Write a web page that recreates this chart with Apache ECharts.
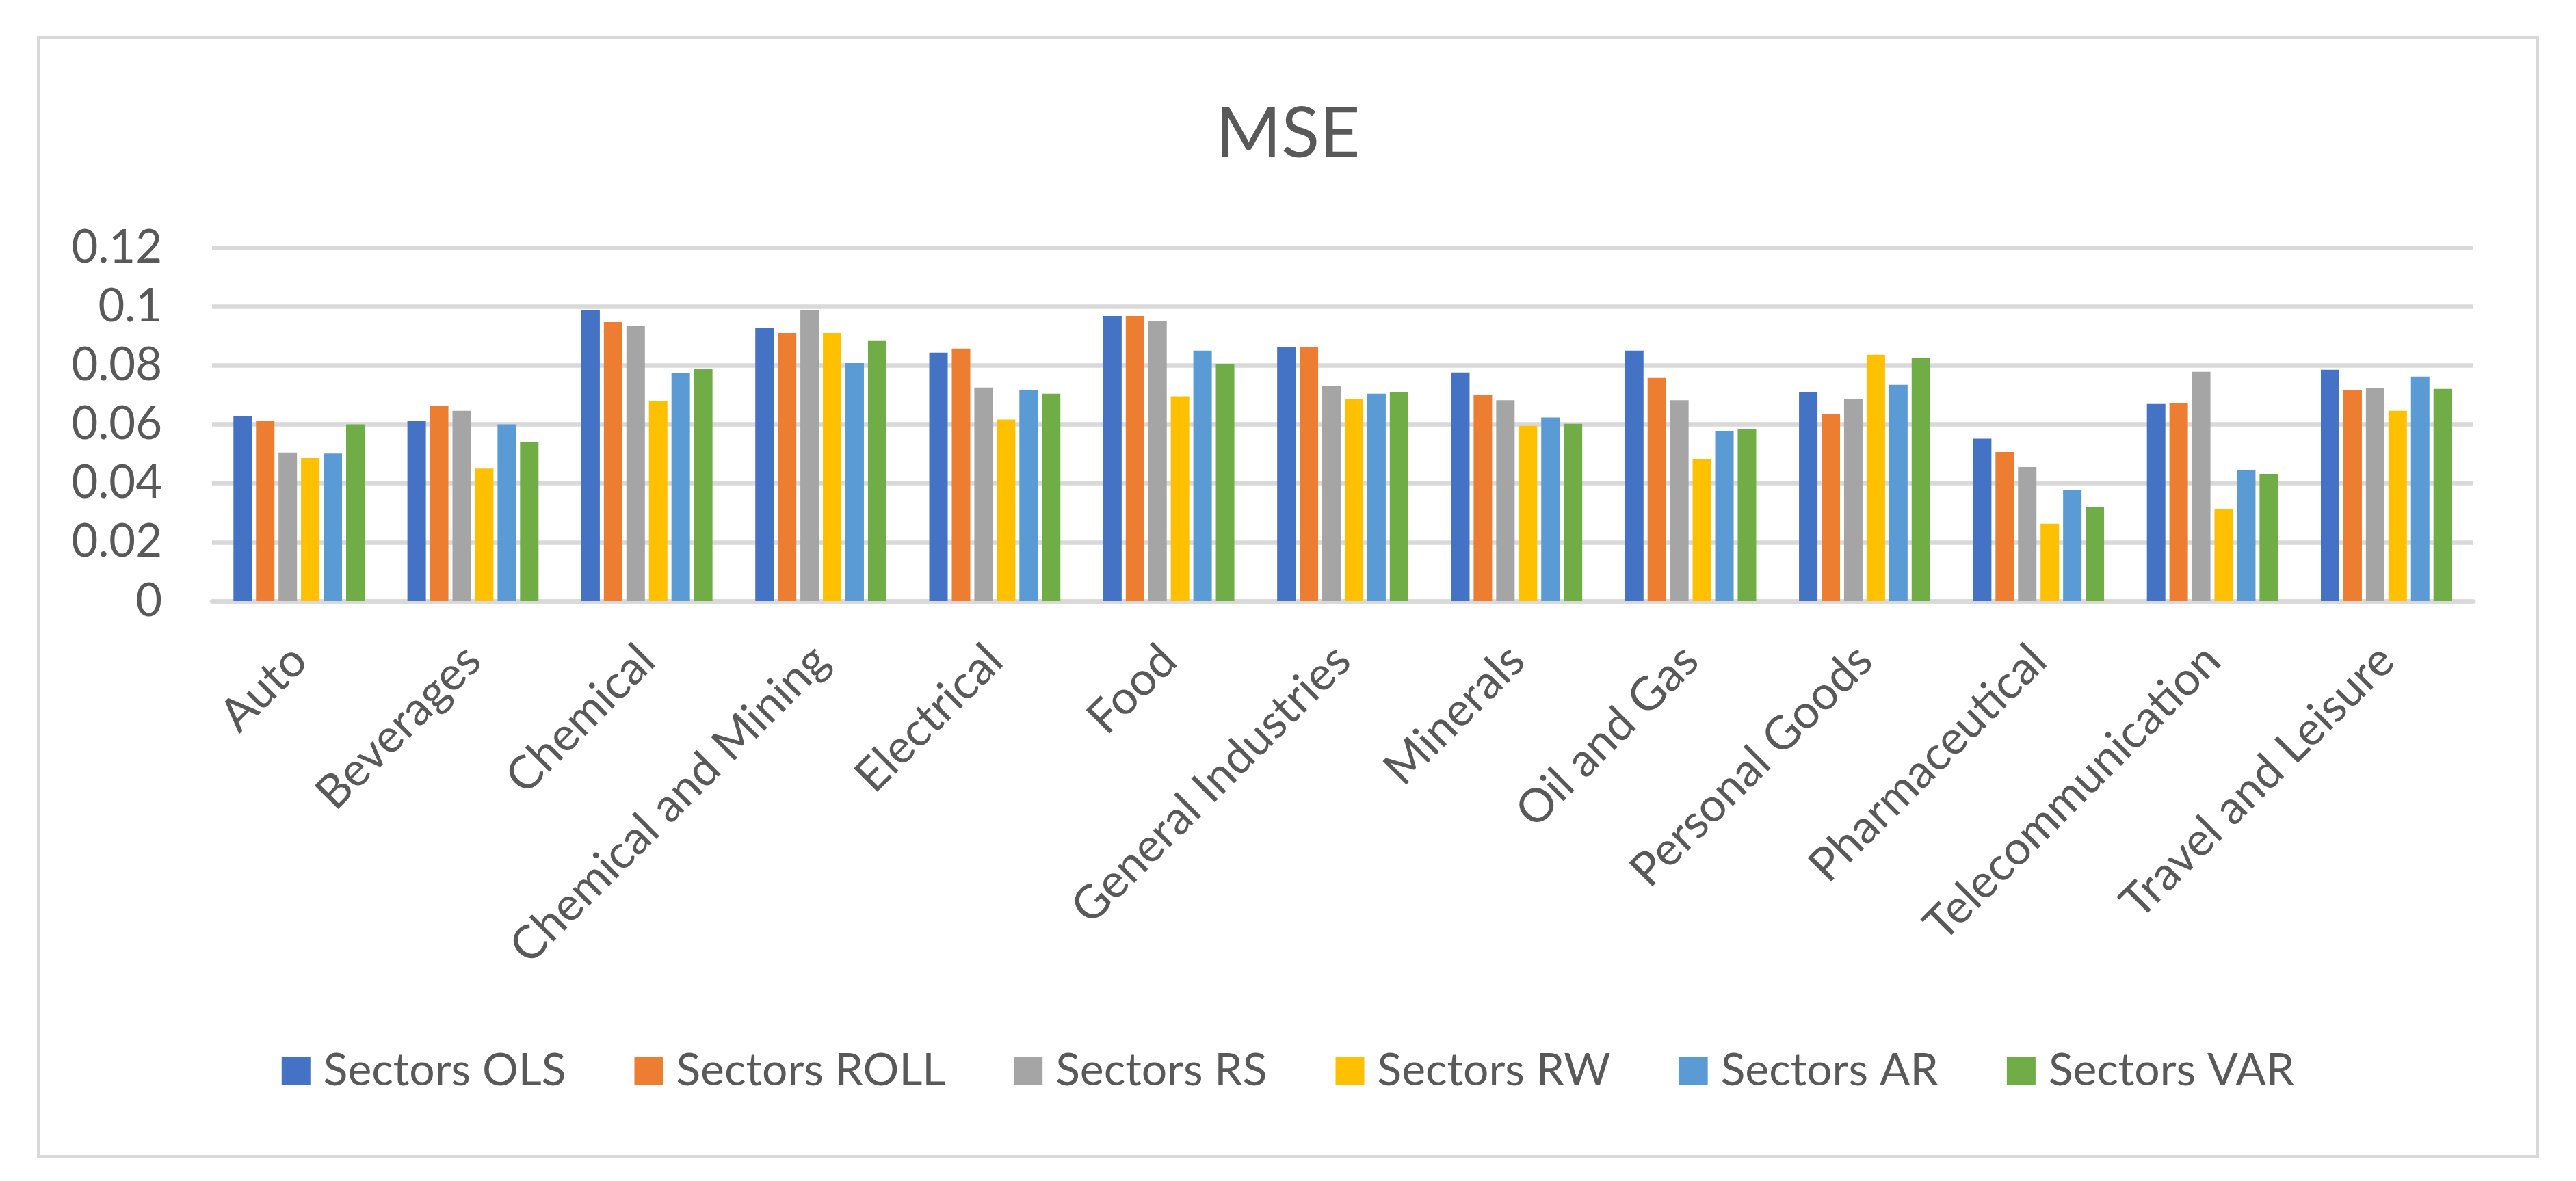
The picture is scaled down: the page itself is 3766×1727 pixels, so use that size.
<!DOCTYPE html>
<html>
<head>
<meta charset="utf-8">
<script src="https://cdn.jsdelivr.net/npm/echarts@6/dist/echarts.min.js"></script>
<style>
html,body{margin:0;padding:0;background:#fff;}
#chart{width:3766px;height:1727px;}
</style>
</head>
<body>
<div id="chart"></div>
<script>
const categories = ["Auto","Beverages","Chemical","Chemical and Mining","Electrical","Food","General Industries","Minerals","Oil and Gas","Personal Goods","Pharmaceutical","Telecommunication","Travel and Leisure"];
const seriesNames = ["Sectors OLS","Sectors ROLL","Sectors RS","Sectors RW","Sectors AR","Sectors VAR"];
const sectorsOLS  = [0.0628,0.0613,0.0989,0.0927,0.0843,0.0968,0.0861,0.0776,0.0850,0.0710,0.0551,0.0669,0.0785];
const sectorsROLL = [0.0611,0.0664,0.0947,0.0910,0.0857,0.0968,0.0861,0.0699,0.0757,0.0636,0.0506,0.0671,0.0715];
const sectorsRS   = [0.0504,0.0646,0.0934,0.0989,0.0725,0.0950,0.0730,0.0682,0.0682,0.0685,0.0455,0.0778,0.0723];
const sectorsRW   = [0.0485,0.0450,0.0679,0.0910,0.0616,0.0695,0.0687,0.0595,0.0483,0.0836,0.0263,0.0312,0.0646];
const sectorsAR   = [0.0501,0.0600,0.0774,0.0808,0.0715,0.0850,0.0704,0.0623,0.0578,0.0734,0.0378,0.0444,0.0762];
const sectorsVAR  = [0.0600,0.0541,0.0787,0.0885,0.0704,0.0804,0.0710,0.0602,0.0585,0.0825,0.0319,0.0432,0.0720];
const yTicks = [0, 0.02, 0.04, 0.06, 0.08, 0.1, 0.12];

const colors = ["#4472C4","#ED7D31","#A5A5A5","#FFC000","#5B9BD5","#70AD47"];
const values = [sectorsOLS, sectorsROLL, sectorsRS, sectorsRW, sectorsAR, sectorsVAR];
const FONT = "Lato";
const TXT = "#595959";

const chart = echarts.init(document.getElementById('chart'), null, {renderer:'canvas'});
chart.setOption({
  animation:false,
  color: colors,
  textStyle:{fontFamily:FONT},
  graphic:[{
    type:'rect', left:54, top:52, silent:true, z:-10,
    shape:{width:3653, height:1637},
    style:{fill:'#fff', stroke:'#d9d9d9', lineWidth:5}
  }],
  title:{
    text:'MSE', left:'center', top:140,
    textStyle:{fontFamily:FONT, fontSize:103, fontWeight:'normal', color:TXT}
  },
  legend:{
    data: seriesNames, left:'center', top:1528,
    icon:'rect', itemWidth:42, itemHeight:42, itemGap:100,
    textStyle:{fontFamily:FONT, fontSize:66, color:TXT, padding:[0,0,0,14]}
  },
  grid:{left:310, right:150, top:362, bottom:848, containLabel:false},
  xAxis:{
    type:'category', data:categories,
    axisTick:{show:false},
    axisLine:{lineStyle:{color:'#d9d9d9', width:6.5}},
    axisLabel:{interval:0, rotate:45, margin:76, fontFamily:FONT, fontSize:68, color:TXT}
  },
  yAxis:{
    type:'value', min:yTicks[0], max:yTicks[yTicks.length-1], interval:0.02,
    axisLine:{show:false}, axisTick:{show:false},
    splitLine:{lineStyle:{color:'#d9d9d9', width:6.5}},
    axisLabel:{margin:73, fontFamily:FONT, fontSize:67, color:TXT,
      formatter:function(v){return String(Math.round(v*100)/100);}}
  },
  series: seriesNames.map(function(n,i){
    return {name:n, type:'bar', data:values[i], barWidth:27, barGap:'22%'};
  })
});
</script>
</body>
</html>
